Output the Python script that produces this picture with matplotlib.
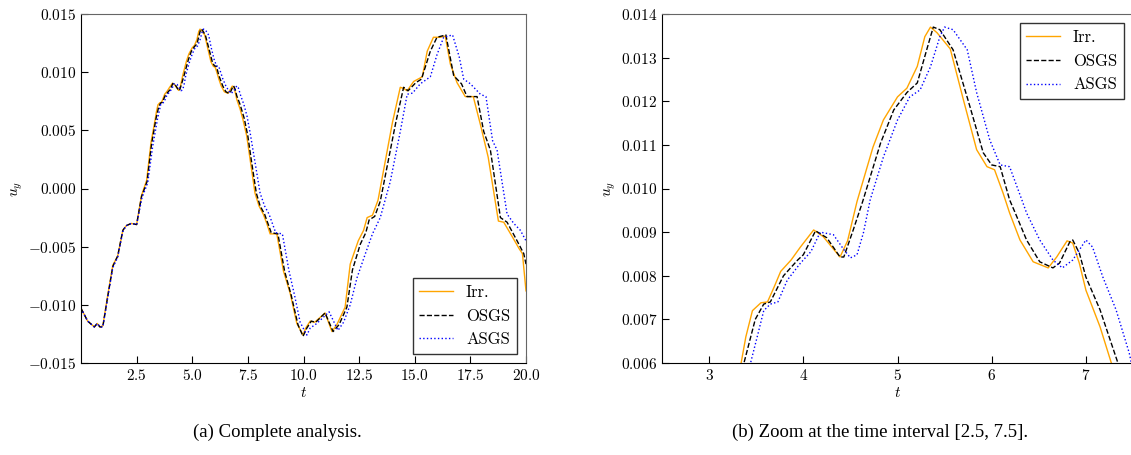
import matplotlib
matplotlib.use("Agg")
import matplotlib.pyplot as plt

plt.rcParams["font.family"] = "serif"
plt.rcParams["font.serif"] = ["cmr10"]
plt.rcParams["mathtext.fontset"] = "cm"
plt.rcParams["axes.formatter.use_mathtext"] = True
plt.rcParams["axes.unicode_minus"] = True

t_irr = [0.0, 0.3, 0.6, 0.73, 0.85, 0.98, 1.2, 1.43, 1.65, 1.88, 2.03, 2.26, 2.5,
         2.72, 2.95, 3.15, 3.34, 3.39, 3.46, 3.55, 3.62, 3.69, 3.76, 3.87, 3.97,
         4.11, 4.21, 4.39, 4.47, 4.57, 4.74, 4.85, 5.0, 5.1, 5.21, 5.29, 5.35,
         5.42, 5.56, 5.7, 5.84, 5.95, 6.03, 6.12, 6.19, 6.3, 6.44, 6.6, 6.69,
         6.8, 6.86, 6.93, 7.0, 7.15, 7.27, 7.45, 7.6, 7.82, 8.0, 8.19, 8.35, 8.5,
         8.8, 9.1, 9.4, 9.7, 9.98, 10.1, 10.3, 10.5, 10.97, 11.28, 11.5, 11.87,
         12.1, 12.46, 12.7, 12.86, 13.1, 13.35, 13.67, 14.0, 14.35, 14.5, 14.66,
         14.95, 15.34, 15.56, 15.84, 16.15, 16.37, 16.6, 16.9, 17.27, 17.63,
         17.95, 18.3, 18.76, 19.0, 19.4, 19.7, 19.84, 20.0]
u_irr = [-0.0103, -0.0114, -0.0119, -0.0116, -0.0119, -0.0118, -0.0092, -0.0066,
         -0.0058, -0.0036, -0.0032, -0.0030, -0.0031, -0.0006, 0.0007, 0.0040,
         0.0060, 0.0066, 0.0072, 0.00738, 0.0074, 0.00774, 0.0081, 0.00836,
         0.00866, 0.00905, 0.0089, 0.00843, 0.0088, 0.0097, 0.01095, 0.01157,
         0.0121, 0.0123, 0.0128, 0.01348, 0.0137, 0.01357, 0.0132, 0.01203,
         0.01089, 0.0105, 0.01043, 0.0099, 0.00944, 0.00882, 0.00832, 0.00818,
         0.00843, 0.0088, 0.00875, 0.00829, 0.00767, 0.00683, 0.0060, 0.0045,
         0.0025, -0.0004, -0.0015, -0.0022, -0.0030, -0.0039, -0.0039, -0.0071,
         -0.0090, -0.0116, -0.0126, -0.0120, -0.0114, -0.0115, -0.0107, -0.0123,
         -0.0117, -0.0102, -0.0065, -0.0045, -0.0036, -0.0025, -0.0023, -0.0010,
         0.0023, 0.0057, 0.0087, 0.0086, 0.0084, 0.0092, 0.0096, 0.0118, 0.0130,
         0.0130, 0.0131, 0.0107, 0.0091, 0.0079, 0.0079, 0.0055, 0.0027, -0.0028,
         -0.0029, -0.0042, -0.0052, -0.0056, -0.0088]

t_osgs = [0.0, 0.3, 0.6, 0.73, 0.85, 0.98, 1.2, 1.43, 1.65, 1.88, 2.03, 2.26, 2.5,
          2.72, 2.97, 3.17, 3.37, 3.49, 3.58, 3.65, 3.79, 3.94, 4.0, 4.13, 4.25,
          4.39, 4.43, 4.53, 4.63, 4.82, 4.96, 5.1, 5.21, 5.31, 5.38, 5.45, 5.59,
          5.77, 5.91, 6.0, 6.09, 6.19, 6.25, 6.37, 6.51, 6.65, 6.72, 6.83, 6.86,
          6.93, 7.0, 7.15, 7.34, 7.5, 7.65, 7.88, 8.05, 8.25, 8.4, 8.55, 8.85,
          9.15, 9.45, 9.75, 9.98, 10.15, 10.35, 10.55, 10.97, 11.33, 11.6, 11.95,
          12.2, 12.55, 12.8, 12.95, 13.2, 13.45, 13.8, 14.15, 14.5, 14.7, 15.05,
          15.3, 15.7, 16.0, 16.4, 16.75, 17.1, 17.35, 17.8, 18.1, 18.4, 18.85,
          19.15, 19.6, 19.9, 20.0]
u_osgs = [-0.0103, -0.0114, -0.0119, -0.0116, -0.0119, -0.0119, -0.0093, -0.0067,
          -0.0058, -0.0036, -0.0032, -0.0030, -0.0031, -0.0007, 0.0006, 0.0038,
          0.0060, 0.0070, 0.00735, 0.0074, 0.0080, 0.00836, 0.00848, 0.00903,
          0.00887, 0.00843, 0.00843, 0.00905, 0.0097, 0.01104, 0.0118, 0.0122,
          0.01242, 0.01318, 0.0137, 0.01364, 0.01318, 0.01187, 0.01082, 0.01054,
          0.0105, 0.00974, 0.00944, 0.00882, 0.00832, 0.00818, 0.00829, 0.00878,
          0.00882, 0.00852, 0.00797, 0.00722, 0.0060, 0.0045, 0.0025, -0.0004,
          -0.0015, -0.0022, -0.0030, -0.0038, -0.0039, -0.0071, -0.0092, -0.0117,
          -0.0127, -0.0120, -0.0114, -0.0115, -0.0107, -0.0123, -0.0117, -0.0102,
          -0.0070, -0.0048, -0.0038, -0.0027, -0.0024, -0.0011, 0.0023, 0.0057,
          0.0087, 0.0084, 0.0091, 0.0094, 0.0118, 0.0130, 0.0132, 0.0097, 0.0090,
          0.0079, 0.0079, 0.0049, 0.0033, -0.0025, -0.0029, -0.0045, -0.0056,
          -0.0065]

t_asgs = [0.0, 0.3, 0.6, 0.73, 0.85, 0.98, 1.2, 1.43, 1.65, 1.88, 2.03, 2.26, 2.5,
          2.74, 3.0, 3.22, 3.44, 3.52, 3.58, 3.65, 3.73, 3.83, 3.97, 4.08, 4.18,
          4.32, 4.43, 4.5, 4.57, 4.64, 4.71, 4.85, 5.0, 5.13, 5.24, 5.35, 5.45,
          5.5, 5.59, 5.74, 5.84, 5.98, 6.09, 6.19, 6.32, 6.37, 6.51, 6.65, 6.75,
          6.86, 7.0, 7.07, 7.18, 7.32, 7.46, 7.6, 7.8, 8.05, 8.25, 8.45, 8.6,
          8.75, 9.05, 9.35, 9.6, 9.85, 10.15, 10.3, 10.6, 11.15, 11.55, 11.8,
          12.1, 12.4, 12.8, 13.1, 13.45, 13.9, 14.35, 14.66, 14.9, 15.25, 15.7,
          16.0, 16.3, 16.7, 17.0, 17.2, 17.5, 17.95, 18.2, 18.5, 18.7, 19.15,
          19.45, 19.75, 20.0]
u_asgs = [-0.0103, -0.0114, -0.0119, -0.0116, -0.0119, -0.0119, -0.0094, -0.0068,
          -0.0059, -0.0037, -0.0032, -0.0030, -0.0031, -0.0008, 0.0005, 0.0036,
          0.0060, 0.00668, 0.0072, 0.00735, 0.0074, 0.0079, 0.00829, 0.00855,
          0.0090, 0.00894, 0.0086, 0.00841, 0.00848, 0.0090, 0.00974, 0.01072,
          0.01157, 0.0121, 0.01226, 0.01279, 0.01348, 0.0137, 0.01364, 0.01318,
          0.0122, 0.01111, 0.01054, 0.0105, 0.00974, 0.00944, 0.00882, 0.00836,
          0.00818, 0.00836, 0.00882, 0.00866, 0.00797, 0.00722, 0.00623, 0.0048,
          0.0025, -0.0004, -0.0015, -0.0022, -0.0030, -0.0038, -0.0039, -0.0071,
          -0.0092, -0.0115, -0.0126, -0.0120, -0.0116, -0.0106, -0.0122, -0.0115,
          -0.0100, -0.0077, -0.0055, -0.0039, -0.0025, 0.0006, 0.0049, 0.0081,
          0.0082, 0.0090, 0.0096, 0.0115, 0.0130, 0.0132, 0.0113, 0.0094, 0.0090,
          0.0081, 0.0079, 0.0041, 0.0033, -0.0022, -0.0030, -0.0036, -0.0045]

labels = ["Irr.", "OSGS", "ASGS"]
captions = ["(a) Complete analysis.", "(b) Zoom at the time interval [2.5, 7.5]."]


def draw(ax):
    ax.plot(t_irr, u_irr, color="orange", lw=1.0, label=labels[0])
    ax.plot(t_osgs, u_osgs, color="black", ls="--", lw=1.0, label=labels[1])
    ax.plot(t_asgs, u_asgs, color="blue", ls=":", lw=1.0, label=labels[2])
    ax.tick_params(direction="in", length=5, labelsize=11, top=False, right=False)
    ax.spines["top"].set_color("0.4")
    ax.spines["right"].set_color("0.4")
    ax.set_xlabel("$t$", fontsize=11, labelpad=2)
    ax.set_ylabel("$u_y$", fontsize=11, labelpad=2)


fig = plt.figure(figsize=(11.31, 4.55), dpi=100)
ax1 = fig.add_axes([81 / 1131, 1 - 363 / 455, 445 / 1131, 349 / 455])
ax2 = fig.add_axes([662 / 1131, 1 - 363 / 455, 471 / 1131, 349 / 455])

draw(ax1)
ax1.set_xlim(0, 20)
ax1.set_ylim(-0.015, 0.015)
ax1.set_xticks([2.5, 5.0, 7.5, 10.0, 12.5, 15.0, 17.5, 20.0])
ax1.set_yticks([-0.015, -0.010, -0.005, 0.0, 0.005, 0.010, 0.015])
ax1.yaxis.set_major_formatter(matplotlib.ticker.FormatStrFormatter("$%.3f$"))
ax1.xaxis.set_major_formatter(matplotlib.ticker.FormatStrFormatter("$%.1f$"))
ax1.legend(loc="lower right", fontsize=12, fancybox=False, edgecolor="0.2",
           framealpha=1, borderaxespad=0.55)

draw(ax2)
ax2.set_xlim(2.5, 7.5)
ax2.set_ylim(0.006, 0.014)
ax2.set_xticks([3, 4, 5, 6, 7])
ax2.set_yticks([0.006, 0.007, 0.008, 0.009, 0.010, 0.011, 0.012, 0.013, 0.014])
ax2.yaxis.set_major_formatter(matplotlib.ticker.FormatStrFormatter("$%.3f$"))
ax2.xaxis.set_major_formatter(matplotlib.ticker.FormatStrFormatter("$%d$"))
ax2.legend(loc="upper right", fontsize=12, fancybox=False, edgecolor="0.2",
           framealpha=1, borderaxespad=0.55)

fig.text(277 / 1131, 1 - 432 / 455, captions[0], ha="center", va="center",
         family="Liberation Serif", fontsize=13.5)
fig.text(880 / 1131, 1 - 432 / 455, captions[1], ha="center", va="center",
         family="Liberation Serif", fontsize=13.5)

fig.savefig("out.png", dpi=100)
